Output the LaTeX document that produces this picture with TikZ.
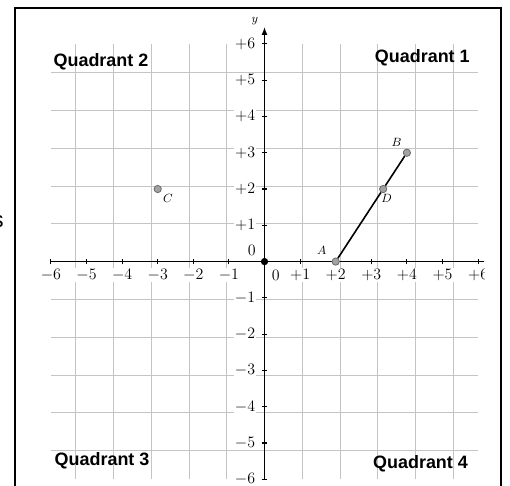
\documentclass[tikz,border=0pt]{standalone}
\usepackage{fontspec}
\newfontfamily\quadfont{Liberation Sans}
\usepackage{xcolor}
\definecolor{plane-ink}{HTML}{000000}
\definecolor{plane-grid}{HTML}{C4C4C4}
\definecolor{plane-dot}{HTML}{A2A2A2}
\definecolor{plane-rim}{HTML}{6A6A6A}
\usetikzlibrary{arrows.meta}

\begin{document}
\begin{tikzpicture}[x=0.942cm, y=0.960cm,
    ticklabel/.style={fill=white, inner sep=1pt, font=\fontsize{12.5}{14}\selectfont},
    quadlabel/.style={inner sep=0pt, font=\quadfont\bfseries\fontsize{13.5}{15}\selectfont},
    dot/.style={circle, fill=plane-dot, draw=plane-rim, line width=0.6pt, inner sep=0pt, minimum size=5.5pt},
    ptlabel/.style={inner sep=0pt, font=\small}]

    % Page
    \useasboundingbox (-7.43, -6.18) rectangle (6.896, 7.21);

    % Frame
    \draw[plane-ink, line width=1.6pt] (-7.008, -6.6) rectangle (6.643, 6.98);

    % Stray letter at the left edge
    \node[anchor=east, inner sep=0pt, font=\quadfont\fontsize{17}{17}\selectfont] (stray) at (-7.317, 1.11) {s};

    \begin{scope}
        \clip (-7.0, -6.5) rectangle (6.166, 6.9);

        % Grid
        \draw[plane-grid, line width=0.6pt] (-6, -6) grid (6, 6);

        % Axes
        \draw[plane-ink, line width=1.3pt] (-6, 0) -- (6.4, 0);
        \draw[plane-ink, line width=1.3pt, -{Latex[length=6pt, width=4.5pt]}] (0, -6) -- (0, 6.47);

        % Ticks
        \foreach \k in {-6,...,6} {
            \draw[plane-ink, line width=0.8pt] (\k, -0.08) -- (\k, 0.08);
            \draw[plane-ink, line width=0.8pt] (-0.08, \k) -- (0.08, \k);
        }

        % Tick labels
        \foreach \k in {-6,...,-1} {
            \node[ticklabel] (xl\k) at (\k, -0.37) {$\k$};
            \node[ticklabel, anchor=east] (yl\k) at (-0.22, \k) {$\k$};
        }
        \foreach \k in {1,...,6} {
            \node[ticklabel] (xl\k) at (\k, -0.37) {$+\k$};
            \node[ticklabel, anchor=east] (yl\k) at (-0.22, \k) {$+\k$};
        }
        \node[ticklabel] (xl0) at (0.32, -0.37) {$0$};
        \node[ticklabel, anchor=east] (yl0) at (-0.2, 0.3) {$0$};
    \end{scope}

    % Axis name
    \node[ptlabel] (ylab) at (-0.27, 6.62) {$y$};

    % Points
    \node[circle, fill=plane-ink, inner sep=0pt, minimum size=5.5pt] (O) at (0, 0) {};
    \node[dot] (A) at (2, 0) {};
    \node[dot] (B) at (4, 3) {};
    \node[dot] (C) at (-3, 2) {};
    \node[dot] (D) at (3.333, 2) {};

    % Segment
    \draw[plane-ink, line width=1.2pt] (A) -- (D) -- (B);

    % Point names
    \node[ptlabel] (Alab) at (1.61, 0.32) {$A$};
    \node[ptlabel] (Blab) at (3.71, 3.28) {$B$};
    \node[ptlabel] (Clab) at (-2.71, 1.75) {$C$};
    \node[ptlabel] (Dlab) at (3.43, 1.73) {$D$};

    % Quadrants
    \node[quadlabel, anchor=east] (q1) at (5.77, 5.61) {Quadrant 1};
    \node[quadlabel, anchor=west] (q2) at (-5.93, 5.51) {Quadrant 2};
    \node[quadlabel, anchor=west] (q3) at (-5.9, -5.48) {Quadrant 3};
    \node[quadlabel, anchor=east] (q4) at (5.72, -5.58) {Quadrant 4};

\end{tikzpicture}
\end{document}
